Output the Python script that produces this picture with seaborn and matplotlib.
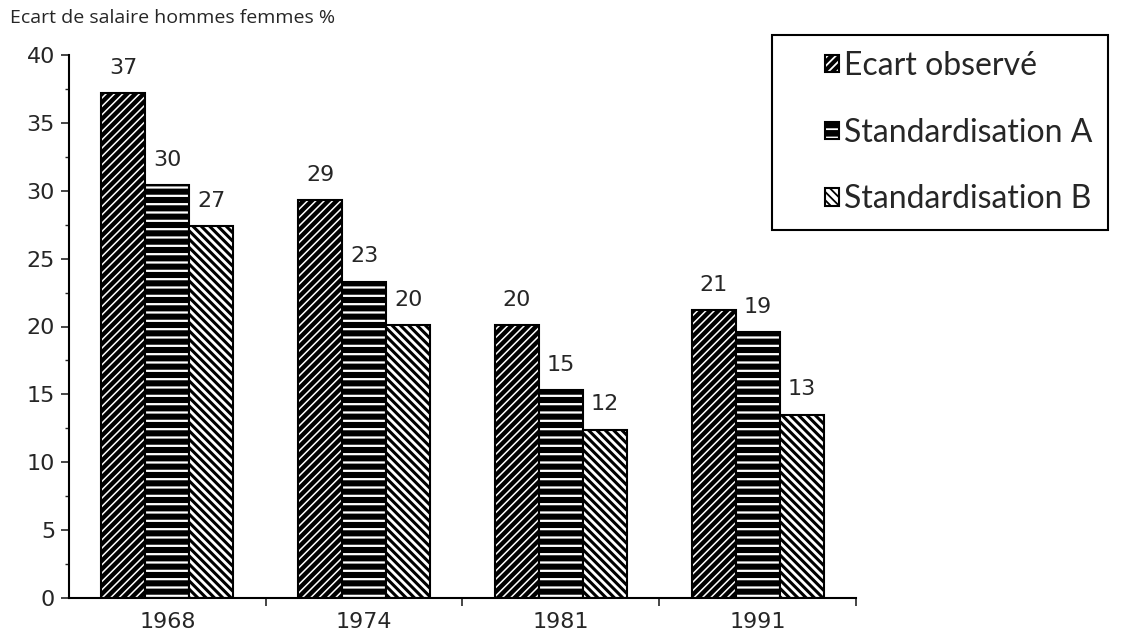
import numpy as np
import pandas as pd
import matplotlib
matplotlib.use("Agg")
import matplotlib.pyplot as plt
import matplotlib.colors as mcolors
from matplotlib.ticker import MultipleLocator, FixedLocator
from matplotlib.legend_handler import HandlerPatch
import seaborn as sns

# data
years = ["1968", "1974", "1981", "1991"]
series = ["Ecart observé", "Standardisation A", "Standardisation B"]
ecart_obs = [37.2, 29.3, 20.1, 21.2]
stand_a = [30.4, 23.3, 15.3, 19.6]
stand_b = [27.4, 20.1, 12.4, 13.5]
labels_obs = [37, 29, 20, 21]
labels_a = [30, 23, 15, 19]
labels_b = [27, 20, 12, 13]

df = pd.DataFrame({
    "annee": years * 3,
    "serie": np.repeat(series, len(years)),
    "ecart": ecart_obs + stand_a + stand_b,
})

sns.set_style("white")
plt.rcParams["font.family"] = ["Liberation Sans Narrow", "DejaVu Sans"]
plt.rcParams["hatch.linewidth"] = 1.3

fig = plt.figure(figsize=(11.33, 6.4), dpi=100)
ax = fig.add_axes([69 / 1133, 1 - 598 / 640, (856 - 69) / 1133, (598 - 55) / 640])

sns.barplot(data=df, x="annee", y="ecart", hue="serie", order=years,
            hue_order=series, width=0.67, palette=["black", "black", "white"],
            saturation=1, edgecolor="black", linewidth=1.5, legend=False, ax=ax)

# hatch patterns like the scanned original
hatches = ["////", "--", "\\\\\\\\"]
hatch_cols = ["white", "white", "black"]
hatch_lw = [1.1, 1.6, 2.2]
for cont, h, hc, hl in zip(ax.containers, hatches, hatch_cols, hatch_lw):
    for p in cont.patches:
        p.set_hatch(h)
        p.set_edgecolor("black")
        if hasattr(p, "set_hatchcolor"):
            p.set_hatchcolor(hc)
        else:
            p._hatch_color = mcolors.to_rgba(hc)
        if hasattr(p, "set_hatch_linewidth"):
            p.set_hatch_linewidth(hl)
        elif hasattr(p, "_hatch_linewidth"):
            p._hatch_linewidth = hl

for cont, labs in zip(ax.containers, [labels_obs, labels_a, labels_b]):
    ax.bar_label(cont, labels=[str(v) for v in labs], padding=11, fontsize=16)

ax.set_xlim(-0.5, 3.5)
ax.set_ylim(0, 40)
ax.set_xlabel("")
ax.set_ylabel("")
ax.yaxis.set_major_locator(MultipleLocator(5))
ax.yaxis.set_minor_locator(MultipleLocator(2.5))
ax.tick_params(axis="y", which="major", length=6, width=1.2, direction="out",
               labelsize=16, pad=4, left=True)
ax.tick_params(axis="y", which="minor", length=3, width=1, direction="out", left=True)
ax.xaxis.set_minor_locator(FixedLocator([0.5, 1.5, 2.5, 3.5]))
ax.tick_params(axis="x", which="major", length=0, labelsize=16, pad=10)
ax.tick_params(axis="x", which="minor", length=6, width=1.2, direction="out", bottom=True)
sns.despine(ax=ax)
for s in ["left", "bottom"]:
    ax.spines[s].set_linewidth(1.5)
    ax.spines[s].set_color("black")

fig.text(10 / 1133, 1 - 18 / 640, "Ecart de salaire hommes femmes %",
         fontsize=14, family=["Open Sans", "DejaVu Sans"], va="center", ha="left")

handles = [c.patches[0] for c in ax.containers]
leg = fig.legend(handles, series, loc="upper left",
                 bbox_to_anchor=(772 / 1133, 1 - 35 / 640),
                 bbox_transform=fig.transFigure, frameon=True, fancybox=False,
                 prop={"family": ["Lato", "DejaVu Sans"], "size": 23},
                 handler_map={h: HandlerPatch(xpad=1.15) for h in handles},
                 handlelength=1.6, handleheight=0.45, handletextpad=0.15,
                 labelspacing=1.15, borderpad=0.5, borderaxespad=0, framealpha=1)
leg.get_frame().set_edgecolor("black")
leg.get_frame().set_linewidth(1.5)

fig.savefig("out.png", dpi=100)
